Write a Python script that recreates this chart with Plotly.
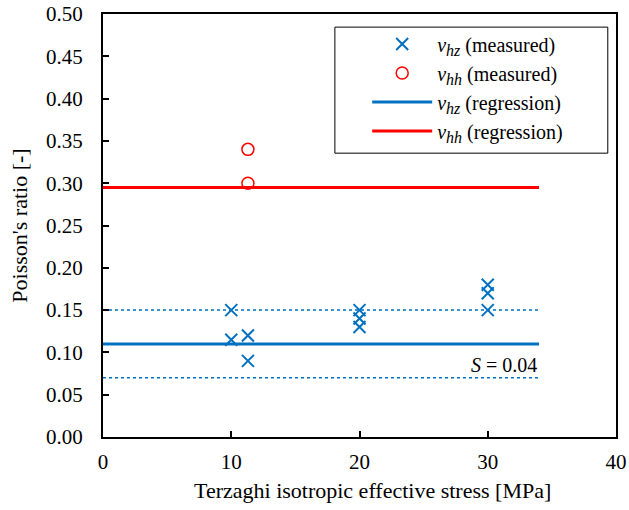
import plotly.graph_objects as go

# ---- data ----
hz_stress = [10, 10, 11.3, 11.3, 20, 20, 20, 30, 30, 30]
hz_ratio = [0.15, 0.115, 0.12, 0.09, 0.15, 0.14, 0.13, 0.18, 0.17, 0.15]
hh_stress = [11.3, 11.3]
hh_ratio = [0.34, 0.30]
reg_x = [0, 34]
hz_reg = [0.11, 0.11]
hh_reg = [0.295, 0.295]
hz_upper = [0.15, 0.15]
hz_lower = [0.07, 0.07]
S_value = 0.04

X_TITLE = "Terzaghi isotropic effective stress [MPa]"
Y_TITLE = "Poisson's ratio [-]"

BLUE = "#0070C0"
RED = "#FF0000"
FONT = "Liberation Serif"


def nu(sub, tail):
    return ("<i>v</i><sub><span style='font-size:16px'><i>" + sub +
            "</i></span></sub> " + tail)


fig = go.Figure()
fig.add_trace(go.Scatter(x=reg_x, y=hz_upper, mode="lines", showlegend=False,
                         line=dict(color=BLUE, width=1.5, dash="dot"), hoverinfo="skip"))
fig.add_trace(go.Scatter(x=reg_x, y=hz_lower, mode="lines", showlegend=False,
                         line=dict(color=BLUE, width=1.5, dash="dot"), hoverinfo="skip"))
fig.add_trace(go.Scatter(x=hz_stress, y=hz_ratio, mode="markers",
                         name=nu("hz", "(measured)"),
                         marker=dict(symbol="x-thin", size=12, line=dict(color=BLUE, width=2), color=BLUE)))
fig.add_trace(go.Scatter(x=hh_stress, y=hh_ratio, mode="markers",
                         name=nu("hh", "(measured)"),
                         marker=dict(symbol="circle-open", size=12, line=dict(color=RED, width=1.5), color=RED)))
fig.add_trace(go.Scatter(x=reg_x, y=hz_reg, mode="lines",
                         name=nu("hz", "(regression)"),
                         line=dict(color=BLUE, width=3)))
fig.add_trace(go.Scatter(x=reg_x, y=hh_reg, mode="lines",
                         name=nu("hh", "(regression)"),
                         line=dict(color=RED, width=3)))

fig.add_annotation(x=reg_x[-1], y=hz_lower[0], xref="x", yref="y",
                   text=f"<i>S</i> = {S_value:.2f}", showarrow=False,
                   xanchor="right", yanchor="bottom", yshift=0,
                   font=dict(family=FONT, size=20, color="black"))

# x-axis title (slightly right of centre, as in the reference)
fig.add_annotation(x=0.526, y=0, xref="paper", yref="paper", text=X_TITLE,
                   showarrow=False, xanchor="center", yanchor="middle", yshift=-53,
                   font=dict(family=FONT, size=22, color="black"))

fig.add_shape(type="rect", xref="paper", yref="paper",
              x0=0.452, x1=0.984, y0=0.671, y1=0.969,
              line=dict(color="black", width=1), fillcolor="white", layer="below")

fig.update_layout(
    width=629, height=510,
    margin=dict(l=103, r=13, t=14, b=73, autoexpand=False),
    paper_bgcolor="white", plot_bgcolor="white",
    font=dict(family=FONT, size=21, color="black"),
    showlegend=True,
    legend=dict(x=0.515, y=0.975, xanchor="left", yanchor="top",
                bgcolor="rgba(0,0,0,0)", borderwidth=0,
                font=dict(family=FONT, size=20, color="black"),
                itemwidth=60, tracegroupgap=4),
)
fig.update_xaxes(range=[0, 40], dtick=10, tick0=0, showgrid=False, zeroline=False,
                 showline=True, linecolor="black", linewidth=2, mirror=True, automargin=False,
                 ticks="inside", ticklen=6, tickwidth=1.5, tickcolor="black",
                 ticklabelstandoff=5, tickfont=dict(family=FONT, size=21, color="black"))
fig.update_yaxes(range=[0, 0.5], dtick=0.05, tick0=0, tickformat=".2f", showgrid=False, zeroline=False,
                 showline=True, linecolor="black", linewidth=2, mirror=True, automargin=False,
                 ticks="inside", ticklen=6, tickwidth=1.5, tickcolor="black",
                 ticklabelstandoff=14, tickfont=dict(family=FONT, size=21, color="black"),
                 title=dict(text=Y_TITLE, standoff=12,
                            font=dict(family=FONT, size=22, color="black")))

fig.write_html("out.html", config={"displayModeBar": False},
               post_script="document.body.style.margin='0';")
